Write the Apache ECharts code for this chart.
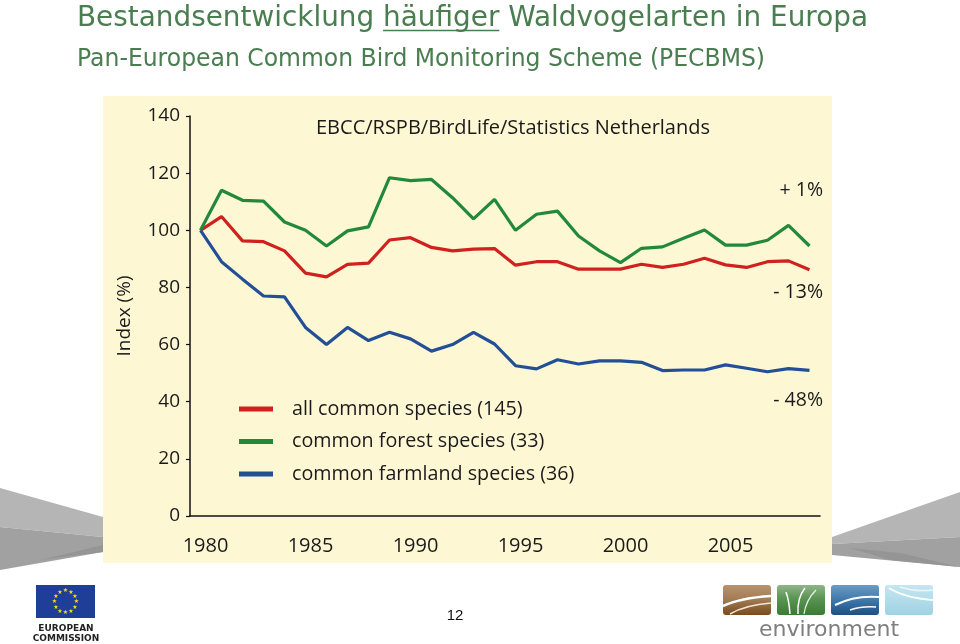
<!DOCTYPE html>
<html><head><meta charset="utf-8">
<script src="https://cdn.jsdelivr.net/npm/echarts@6/dist/echarts.min.js"></script>
<style>html,body{margin:0;padding:0;background:#fff}#c{width:960px;height:644px}</style>
</head><body><div id="c"></div>
<script>
const years = ['1980','1981','1982','1983','1984','1985','1986','1987','1988','1989',
  '1990','1991','1992','1993','1994','1995','1996','1997','1998','1999',
  '2000','2001','2002','2003','2004','2005','2006','2007','2008','2009'];
const allSpecies = [100,104.8,96.3,96,92.8,85,83.7,88.1,88.5,96.6,
  97.4,94,92.8,93.4,93.6,87.8,89,89,86.4,86.4,
  86.4,88.1,87,88.1,90.2,87.9,87,89,89.3,86.2];
const forestSpecies = [100,114,110.5,110.2,102.9,100,94.5,99.8,101.2,118.4,
  117.4,117.8,111.4,104,110.8,100,105.6,106.7,98,92.8,
  88.7,93.7,94.2,97.2,100.1,94.8,94.8,96.5,101.7,94.5];
const farmlandSpecies = [100,89,82.9,77,76.7,66,60,66,61.4,64.3,
  62,57.7,60,64.3,60.2,52.6,51.5,54.7,53.2,54.3,
  54.3,53.8,50.9,51.1,51.1,52.9,51.7,50.5,51.6,51.0];
const seriesNames = ['all common species (145)','common forest species (33)','common farmland species (36)'];
const changeLabels = ['+ 1%','- 13%','- 48%'];
const titleParts = ['Bestandsentwicklung ','häufiger',' Waldvogelarten in Europa'];
const subtitle = 'Pan-European Common Bird Monitoring Scheme (PECBMS)';
const sourceText = 'EBCC/RSPB/BirdLife/Statistics Netherlands';

const colors = ['#d0211f','#23893a','#234f96'];
const titleColor = '#4a7d50';
const titleFont = '29px "DejaVu Sans"';
const subFont = '25.5px "DejaVu Sans"';
const mctx = document.createElement('canvas').getContext('2d');
mctx.font = titleFont;
const w0 = mctx.measureText(titleParts[0]).width;
const w1 = mctx.measureText(titleParts[1]).width;
const wAll = mctx.measureText(titleParts.join('')).width;
const titleScale = 791 / wAll;
mctx.font = subFont;
const subScale = 688 / mctx.measureText(subtitle).width;

const chart = echarts.init(document.getElementById('c'));
const txt = 'Open Sans';

const graphics = [
  {type:'rect', z:-100, shape:{x:103,y:96,width:729,height:467}, style:{fill:'#fdf7d4'}},
  // slide grey wedges
  {type:'polygon', z:-100, shape:{points:[[0,488],[103,517],[103,537],[0,527]]}, style:{fill:'#b5b5b5'}},
  {type:'polygon', z:-100, shape:{points:[[0,527],[103,537],[103,552],[0,570]]}, style:{fill:'#a1a1a1'}},
  {type:'polygon', z:-100, shape:{points:[[40,560],[103,545],[103,552]]}, style:{fill:'#959595'}},
  {type:'polygon', z:-100, shape:{points:[[832,537],[960,492],[960,537],[832,544]]}, style:{fill:'#b5b5b5'}},
  {type:'polygon', z:-100, shape:{points:[[832,544],[960,537],[960,567],[832,555]]}, style:{fill:'#a1a1a1'}},
  {type:'polygon', z:-100, shape:{points:[[850,548],[900,553],[960,567],[890,560]]}, style:{fill:'#959595'}},
  // title
  {type:'text', x:77, y:18, scaleX:titleScale, style:{x:0, y:0, text:titleParts.join(''), font:titleFont, fill:titleColor, verticalAlign:'middle'}},
  {type:'line', shape:{x1:77+w0*titleScale, y1:30.5, x2:77+(w0+w1)*titleScale, y2:30.5}, style:{stroke:titleColor, lineWidth:1.5}},
  {type:'text', x:77, y:59, scaleX:subScale, style:{x:0, y:0, text:subtitle, font:subFont, fill:titleColor, verticalAlign:'middle'}},
  // change annotations
  {type:'text', style:{x:823, y:190, text:changeLabels[0], font:'19.5px "Open Sans"', fill:'#1a1a1a', align:'right', verticalAlign:'middle'}},
  {type:'text', style:{x:823, y:292, text:changeLabels[1], font:'19.5px "Open Sans"', fill:'#1a1a1a', align:'right', verticalAlign:'middle'}},
  {type:'text', style:{x:823, y:400, text:changeLabels[2], font:'19.5px "Open Sans"', fill:'#1a1a1a', align:'right', verticalAlign:'middle'}},
  // page number
  {type:'text', style:{x:455, y:616, text:'12', font:'15px "Liberation Sans"', fill:'#111', align:'center', verticalAlign:'middle'}},
  // EU logo
  {type:'rect', shape:{x:36,y:585,width:59,height:33}, style:{fill:'#1f3e97'}},
  {type:'text', style:{x:66, y:629, text:'EUROPEAN', font:'bold 9px "DejaVu Sans"', fill:'#222', align:'center', verticalAlign:'middle'}},
  {type:'text', style:{x:66, y:639, text:'COMMISSION', font:'bold 9px "DejaVu Sans"', fill:'#222', align:'center', verticalAlign:'middle'}},
  // environment logo
  {type:'rect', shape:{x:723,y:585,width:48,height:30,r:3}, style:{fill:new echarts.graphic.LinearGradient(0,0,0,1,[{offset:0,color:'#b8946d'},{offset:0.5,color:'#a07a52'},{offset:1,color:'#7a4a1c'}])}},
  {type:'rect', shape:{x:777,y:585,width:48,height:30,r:3}, style:{fill:new echarts.graphic.LinearGradient(0,0,0,1,[{offset:0,color:'#8fb58a'},{offset:0.45,color:'#5a9452'},{offset:1,color:'#3b7a35'}])}},
  {type:'rect', shape:{x:831,y:585,width:48,height:30,r:3}, style:{fill:new echarts.graphic.LinearGradient(0,0,0,1,[{offset:0,color:'#6b9cc4'},{offset:0.5,color:'#3f78ab'},{offset:1,color:'#1d4f82'}])}},
  {type:'rect', shape:{x:885,y:585,width:48,height:30,r:3}, style:{fill:new echarts.graphic.LinearGradient(0,0,0,1,[{offset:0,color:'#c5e6f0'},{offset:1,color:'#9fd2e4'}])}},
  {type:'bezierCurve', shape:{x1:723,y1:606,x2:771,y2:596,cpx1:740,cpy1:598}, style:{stroke:'#fff', lineWidth:2.5, fill:null}},
  {type:'bezierCurve', shape:{x1:730,y1:614,x2:771,y2:603,cpx1:745,cpy1:605}, style:{stroke:'#f3e6d6', lineWidth:1.5, fill:null}},
  {type:'bezierCurve', shape:{x1:790,y1:614,x2:786,y2:592,cpx1:789,cpy1:600}, style:{stroke:'#fff', lineWidth:1.5, fill:null}},
  {type:'bezierCurve', shape:{x1:798,y1:614,x2:805,y2:588,cpx1:797,cpy1:598}, style:{stroke:'#fff', lineWidth:1.5, fill:null}},
  {type:'bezierCurve', shape:{x1:804,y1:614,x2:816,y2:590,cpx1:806,cpy1:600}, style:{stroke:'#e8f3e6', lineWidth:1.2, fill:null}},
  {type:'bezierCurve', shape:{x1:835,y1:605,x2:879,y2:597,cpx1:855,cpy1:595}, style:{stroke:'#fff', lineWidth:2, fill:null}},
  {type:'bezierCurve', shape:{x1:850,y1:610,x2:876,y2:607,cpx1:862,cpy1:606}, style:{stroke:'#fff', lineWidth:1.5, fill:null}},
  {type:'bezierCurve', shape:{x1:889,y1:588,x2:933,y2:600,cpx1:905,cpy1:598}, style:{stroke:'#fff', lineWidth:2, fill:null}},
  {type:'bezierCurve', shape:{x1:900,y1:587,x2:933,y2:590,cpx1:915,cpy1:592}, style:{stroke:'#eaf6fa', lineWidth:1.5, fill:null}},
  {type:'text', style:{x:829, y:630, text:'environment', font:'22px "DejaVu Sans"', fill:'#7f7f7f', align:'center', verticalAlign:'middle'}}
];
// EU stars
for (let i = 0; i < 12; i++) {
  const a = i * Math.PI / 6;
  graphics.push({type:'text', style:{x:65.5 + 11*Math.sin(a), y:601.5 - 11*Math.cos(a), text:'★', font:'6px "DejaVu Sans"', fill:'#ffdd00', align:'center', verticalAlign:'middle'}});
}

const option = {
  animation: false,
  backgroundColor: '#ffffff',
  textStyle: {fontFamily: txt},
  title: {text: sourceText, left: 316, top: 118, padding: 0,
    textStyle: {fontFamily: txt, fontSize: 20, fontWeight: 'normal', color: '#1a1a1a'}},
  legend: {
    orient: 'vertical', left: 239, top: 399, padding: 0, itemGap: 12.5,
    itemWidth: 34, itemHeight: 5, icon: 'rect', selectedMode: false,
    data: seriesNames,
    textStyle: {fontFamily: txt, fontSize: 19.7, lineHeight: 20, color: '#1a1a1a', padding: [0,0,0,14]}
  },
  grid: {left: 190, right: 140, top: 116, bottom: 128},
  xAxis: {
    type: 'category', data: years, boundaryGap: true,
    axisLine: {lineStyle: {color: '#111', width: 1.5}},
    axisTick: {interval: 0, length: 5, lineStyle: {color: '#111', width: 1.2}},
    axisLabel: {interval: 4, fontSize: 20, color: '#1a1a1a', margin: 20, padding: [0,0,0,10], fontFamily: txt},
    splitLine: {show: false}
  },
  yAxis: {
    type: 'value', min: 0, max: 140, interval: 20,
    axisLine: {show: true, lineStyle: {color: '#111', width: 1.5}},
    axisTick: {show: true, length: 4, lineStyle: {color: '#111', width: 1.2}},
    axisLabel: {fontSize: 19, color: '#1a1a1a', margin: 10, fontFamily: txt},
    splitLine: {show: false},
    name: 'Index (%)', nameLocation: 'middle', nameGap: 56,
    nameTextStyle: {fontSize: 19, color: '#1a1a1a', fontFamily: txt}
  },
  series: [
    {name: seriesNames[0], type: 'line', data: allSpecies, showSymbol: false, color: colors[0], lineStyle: {width: 3.2, color: colors[0]}},
    {name: seriesNames[1], type: 'line', data: forestSpecies, showSymbol: false, color: colors[1], lineStyle: {width: 3.2, color: colors[1]}},
    {name: seriesNames[2], type: 'line', data: farmlandSpecies, showSymbol: false, color: colors[2], lineStyle: {width: 3.2, color: colors[2]}}
  ],
  graphic: {elements: graphics}
};
chart.setOption(option);
</script></body></html>
